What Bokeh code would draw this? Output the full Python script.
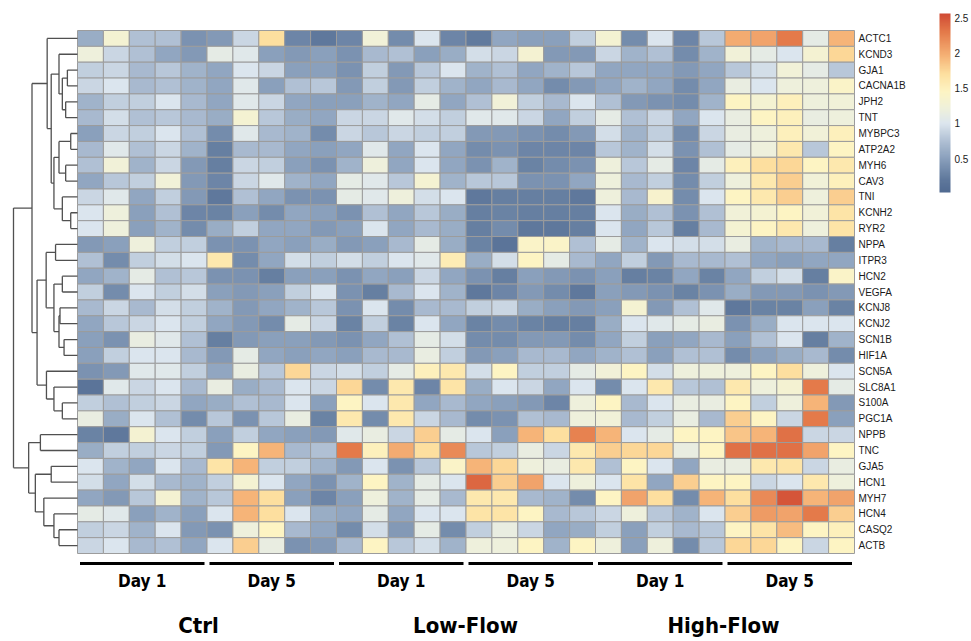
import numpy as np
from bokeh.plotting import figure
from bokeh.models import Range1d, LinearColorMapper, ColorBar, FixedTicker, ColumnDataSource
from bokeh.core.properties import value
from bokeh.embed import file_html
from bokeh.resources import INLINE

genes = ["ACTC1", "KCND3", "GJA1", "CACNA1B", "JPH2", "TNT", "MYBPC3", "ATP2A2", "MYH6", "CAV3",
         "TNI", "KCNH2", "RYR2", "NPPA", "ITPR3", "HCN2", "VEGFA", "KCNJ8", "KCNJ2", "SCN1B",
         "HIF1A", "SCN5A", "SLC8A1", "S100A", "PGC1A", "NPPB", "TNC", "GJA5", "HCN1", "MYH7",
         "HCN4", "CASQ2", "ACTB"]
conditions = ["Ctrl", "Low-Flow", "High-Flow"]
days = ["Day 1", "Day 5"]

# 33 genes x 5 replicates per group
ctrl_d1 = [
    [0.6, 1.3, 0.75, 0.75, 0.4], [1.2, 0.9, 0.75, 0.55, 0.45], [0.85, 0.9, 0.7, 0.8, 0.65],
    [0.9, 1.0, 0.7, 0.75, 0.65], [0.65, 0.85, 0.85, 1.0, 0.7], [0.7, 0.95, 0.75, 0.8, 0.7],
    [0.5, 0.9, 0.85, 1.0, 0.75], [0.7, 1.05, 0.75, 0.9, 0.65], [0.75, 1.25, 0.65, 0.9, 0.45],
    [0.55, 0.8, 0.85, 1.25, 0.45], [0.9, 1.05, 0.55, 0.85, 0.45], [1.0, 1.2, 0.5, 0.75, 0.3],
    [1.0, 1.2, 0.5, 0.65, 0.35], [0.45, 0.5, 1.2, 0.85, 0.85], [0.75, 0.35, 0.85, 0.95, 1.0],
    [0.55, 0.65, 1.1, 0.75, 0.8], [0.85, 0.35, 1.0, 0.85, 0.95], [0.7, 0.9, 0.7, 0.95, 0.85],
    [0.55, 0.8, 0.9, 1.0, 0.85], [0.5, 0.4, 1.15, 1.05, 0.75], [0.5, 0.85, 1.0, 1.0, 0.7],
    [0.4, 0.45, 1.05, 1.05, 0.85], [0.15, 1.05, 0.9, 1.0, 0.7], [0.85, 0.75, 0.85, 0.9, 0.55],
    [1.15, 0.6, 1.0, 0.75, 0.35], [0.28, 0.2, 1.3, 1.0, 0.85], [0.6, 0.85, 0.85, 0.9, 0.85],
    [1.0, 0.65, 0.55, 1.0, 0.7], [0.95, 0.55, 0.95, 0.7, 0.65], [0.55, 0.45, 0.8, 1.3, 0.65],
    [1.1, 1.05, 0.5, 0.65, 0.5], [0.85, 0.9, 0.65, 1.0, 0.45], [0.9, 1.0, 0.7, 0.75, 0.55],
]
ctrl_d5 = [
    [0.45, 0.9, 1.7, 0.3, 0.2], [1.1, 1.05, 0.5, 0.45, 0.5], [0.55, 1.0, 0.9, 0.5, 0.5],
    [0.55, 1.05, 0.5, 0.75, 0.8], [0.55, 1.05, 0.9, 0.55, 0.5], [0.6, 1.3, 0.8, 0.6, 0.55],
    [0.35, 1.05, 0.7, 0.65, 0.35], [0.25, 0.7, 0.7, 0.55, 0.5], [0.25, 0.9, 0.85, 0.5, 0.4],
    [0.3, 0.9, 1.05, 0.65, 0.55], [0.2, 0.75, 0.55, 0.4, 0.4], [0.28, 0.5, 0.35, 0.55, 0.5],
    [0.6, 0.85, 0.55, 0.55, 0.45], [0.4, 0.4, 0.55, 0.5, 0.6], [1.6, 0.35, 0.55, 0.95, 0.85],
    [0.4, 0.4, 0.25, 0.5, 0.5], [0.5, 0.45, 0.5, 0.85, 1.0], [0.65, 0.45, 0.55, 0.65, 0.8],
    [0.55, 0.45, 0.35, 1.1, 0.9], [0.25, 0.45, 0.5, 0.5, 0.45], [0.45, 1.1, 0.55, 0.5, 0.55],
    [0.55, 1.15, 0.8, 1.75, 0.9], [1.15, 0.6, 0.7, 1.0, 0.9], [0.6, 0.75, 0.7, 1.0, 0.5],
    [0.8, 0.4, 0.8, 1.15, 0.28], [0.5, 0.85, 0.55, 0.5, 0.45], [0.45, 1.45, 1.95, 0.7, 0.75],
    [1.65, 1.95, 0.85, 0.85, 0.65], [0.85, 1.3, 1.0, 0.55, 0.4], [0.8, 1.95, 1.7, 0.5, 0.3],
    [1.0, 1.95, 1.7, 1.0, 0.6], [0.4, 1.2, 1.45, 0.7, 0.55], [1.0, 1.8, 1.15, 0.4, 0.45],
]
low_d1 = [
    [0.3, 1.25, 0.35, 1.0, 0.3], [0.4, 0.7, 0.75, 0.5, 0.6], [0.4, 0.85, 0.45, 0.8, 1.0],
    [0.45, 0.85, 0.45, 0.85, 0.65], [0.5, 0.65, 0.55, 1.1, 0.55], [0.9, 0.9, 1.05, 0.95, 0.85],
    [0.9, 0.8, 0.9, 0.85, 0.85], [0.55, 1.05, 0.55, 1.0, 0.55], [0.65, 1.2, 0.55, 1.0, 0.55],
    [1.1, 1.05, 0.8, 1.3, 0.65], [1.1, 1.05, 1.2, 0.95, 1.0], [0.4, 0.75, 0.55, 0.8, 0.6],
    [0.5, 1.0, 0.55, 0.7, 0.6], [0.45, 0.5, 0.7, 1.1, 0.6], [0.95, 0.85, 1.0, 1.05, 1.55],
    [0.4, 0.55, 0.5, 0.9, 0.55], [0.4, 0.25, 0.7, 1.0, 0.65], [0.4, 1.0, 0.35, 0.7, 0.7],
    [0.28, 0.85, 0.28, 1.0, 0.55], [0.4, 0.55, 0.75, 1.1, 0.95], [0.5, 0.7, 0.7, 1.15, 0.85],
    [0.95, 0.85, 1.1, 1.5, 1.6], [1.75, 0.35, 1.6, 0.3, 1.65], [1.45, 1.0, 1.6, 0.55, 0.7],
    [1.6, 0.35, 1.6, 0.9, 0.7], [1.05, 1.15, 0.9, 1.8, 1.1], [2.3, 1.5, 2.0, 1.7, 2.2],
    [0.45, 1.0, 0.4, 0.8, 1.4], [0.65, 1.45, 0.65, 1.1, 1.0], [0.5, 1.2, 0.65, 1.1, 0.7],
    [0.55, 1.1, 0.55, 1.0, 1.0], [0.35, 0.95, 0.45, 1.1, 0.35], [0.7, 1.45, 0.8, 0.95, 0.65],
]
low_d5 = [
    [0.22, 0.55, 0.5, 0.5, 0.85], [0.95, 0.9, 1.3, 0.45, 0.45], [0.65, 0.75, 0.55, 0.65, 0.8],
    [0.55, 0.7, 0.55, 0.35, 0.45], [0.75, 1.25, 0.85, 0.7, 1.0], [1.05, 1.05, 0.9, 0.55, 0.85],
    [0.45, 0.45, 0.4, 0.35, 0.45], [0.35, 0.4, 0.3, 0.3, 0.3], [0.4, 0.65, 0.28, 0.35, 0.4],
    [0.8, 0.8, 0.4, 0.4, 0.55], [0.2, 0.25, 0.25, 0.25, 0.2], [0.25, 0.28, 0.25, 0.25, 0.25],
    [0.25, 0.35, 0.2, 0.2, 0.25], [0.28, 0.15, 1.4, 1.4, 0.75], [0.6, 0.95, 1.45, 1.1, 0.7],
    [0.4, 0.25, 0.5, 0.45, 0.4], [0.2, 0.3, 0.45, 0.35, 0.2], [0.85, 0.9, 0.6, 0.5, 0.45],
    [0.28, 0.35, 0.28, 0.25, 0.25], [0.35, 0.35, 0.45, 0.45, 0.35], [0.45, 0.5, 0.7, 0.7, 0.55],
    [0.95, 1.45, 0.85, 0.85, 1.1], [0.6, 1.0, 0.9, 0.55, 1.0], [0.55, 0.5, 0.45, 0.3, 1.2],
    [0.35, 0.4, 0.75, 0.7, 1.2], [1.0, 0.5, 1.95, 1.7, 2.25], [0.8, 0.85, 1.15, 0.9, 1.6],
    [1.95, 1.75, 1.2, 1.15, 1.6], [2.4, 1.8, 2.05, 1.0, 1.2], [1.6, 1.6, 0.7, 0.65, 0.35],
    [1.65, 1.65, 1.45, 0.7, 0.8], [0.85, 1.15, 0.9, 0.55, 0.6], [1.2, 1.2, 1.45, 0.65, 1.45],
]
high_d1 = [
    [1.3, 0.35, 1.0, 0.3, 0.8], [0.9, 0.65, 0.75, 0.35, 0.65], [0.55, 0.55, 0.55, 0.45, 0.55],
    [0.55, 0.65, 0.55, 0.35, 0.55], [0.75, 0.45, 0.4, 0.35, 0.65], [1.1, 0.75, 0.9, 0.55, 1.0],
    [0.95, 0.65, 0.85, 0.35, 0.9], [0.8, 0.65, 0.95, 0.4, 0.75], [1.2, 0.8, 1.1, 0.3, 1.1],
    [1.2, 0.7, 0.85, 0.35, 0.85], [1.2, 0.7, 1.35, 0.35, 1.0], [1.0, 0.6, 0.75, 0.4, 0.75],
    [1.0, 0.55, 0.8, 0.25, 0.7], [1.1, 0.65, 1.0, 0.95, 0.95], [0.55, 0.85, 0.45, 0.7, 0.7],
    [0.5, 0.25, 0.28, 0.55, 0.28], [0.5, 0.45, 0.4, 0.28, 0.4], [0.5, 1.3, 0.45, 0.75, 1.05],
    [0.6, 1.0, 1.05, 1.1, 1.15], [0.55, 0.85, 0.5, 0.55, 0.7], [0.65, 0.75, 0.5, 0.75, 0.75],
    [1.25, 1.45, 0.95, 1.2, 1.2], [0.35, 1.0, 1.6, 0.8, 0.75], [1.45, 0.7, 1.0, 1.15, 1.15],
    [1.25, 0.7, 0.85, 1.15, 0.7], [1.95, 1.0, 1.1, 1.45, 1.45], [1.8, 1.75, 1.75, 1.15, 1.45],
    [0.75, 1.45, 1.0, 0.55, 1.15], [1.0, 1.65, 0.55, 1.8, 1.45], [1.45, 2.05, 1.7, 0.35, 1.95],
    [0.9, 1.2, 0.8, 0.65, 1.0], [0.85, 0.5, 0.85, 0.7, 0.8], [1.2, 0.5, 1.2, 0.35, 0.8],
]
high_d5 = [
    [2.0, 2.05, 2.3, 1.1, 1.95], [1.25, 1.1, 1.0, 1.3, 1.75], [0.8, 0.95, 1.25, 1.1, 0.8],
    [1.15, 1.0, 1.2, 1.2, 1.4], [1.45, 1.3, 1.5, 1.2, 1.25], [1.15, 1.45, 1.5, 1.15, 1.2],
    [1.15, 1.2, 1.5, 1.25, 1.5], [1.1, 1.2, 1.6, 0.8, 1.45], [1.5, 1.7, 1.75, 1.45, 1.6],
    [1.2, 1.6, 1.8, 1.25, 1.5], [1.45, 1.6, 1.8, 1.2, 1.8], [1.25, 1.3, 1.45, 1.25, 1.65],
    [1.3, 1.45, 1.6, 1.2, 1.65], [1.15, 0.65, 0.7, 0.7, 0.25], [0.75, 0.55, 0.5, 0.55, 0.55],
    [0.55, 0.85, 0.95, 0.25, 1.4], [0.6, 0.45, 0.45, 0.4, 0.45], [0.2, 0.28, 0.28, 0.5, 0.28],
    [0.4, 0.6, 1.0, 1.0, 1.0], [0.5, 0.75, 1.0, 0.25, 0.65], [0.35, 0.5, 0.6, 0.7, 0.35],
    [1.2, 1.45, 1.7, 1.2, 1.0], [1.6, 1.2, 1.3, 2.3, 1.1], [1.45, 0.85, 1.2, 1.95, 0.45],
    [1.8, 1.45, 0.9, 2.3, 0.5], [1.85, 1.95, 2.35, 0.9, 0.9], [2.35, 2.35, 2.35, 2.05, 1.45],
    [1.15, 1.6, 1.65, 0.9, 1.15], [1.45, 0.9, 1.0, 1.6, 1.2], [1.7, 2.2, 2.5, 1.95, 2.05],
    [1.8, 2.1, 2.05, 2.3, 1.8], [1.45, 1.65, 1.9, 1.45, 1.5], [1.75, 1.75, 1.45, 0.9, 1.45],
]
group_blocks = [ctrl_d1, ctrl_d5, low_d1, low_d5, high_d1, high_d5]

# row dendrogram: (node, left child, right child, merge height)
merges = [
    ("a1", "GJA1", "CACNA1B", 1.0), ("a2", "JPH2", "TNT", 1.17), ("a3", "a1", "a2", 1.5),
    ("a4", "KCND3", "a3", 1.83), ("a5", "MYBPC3", "ATP2A2", 0.67), ("a6", "MYH6", "CAV3", 1.17),
    ("a7", "a5", "a6", 1.83), ("a8", "KCNH2", "RYR2", 0.67), ("a9", "TNI", "a8", 1.5),
    ("a10", "a7", "a9", 2.33), ("a11", "a4", "a10", 2.6), ("A", "ACTC1", "a11", 3.0),
    ("b1", "NPPA", "ITPR3", 2.17), ("b2", "HCN2", "VEGFA", 1.5), ("b3", "KCNJ8", "KCNJ2", 1.73),
    ("b4", "SCN1B", "HIF1A", 1.33), ("b5", "b3", "b4", 1.83), ("b6", "b2", "b5", 2.33),
    ("b7", "b1", "b6", 3.1), ("c1", "S100A", "PGC1A", 1.5), ("c2", "SLC8A1", "c1", 2.33),
    ("c3", "SCN5A", "c2", 3.07), ("B", "b7", "c3", 4.0), ("AB", "A", "B", 4.5),
    ("d1", "NPPB", "TNC", 3.67), ("d2", "GJA5", "HCN1", 2.6), ("d3", "CASQ2", "ACTB", 1.83),
    ("d4", "HCN4", "d3", 2.33), ("d5", "MYH7", "d4", 3.33), ("d6", "d2", "d5", 4.17),
    ("C", "d1", "d6", 4.83), ("root", "AB", "C", 6.33),
]

# ---------------- layout constants (page pixels) ----------------
W, H = 971, 641
n_rows, n_cols = len(genes), 5 * len(group_blocks)
cw = 777.0 / n_cols          # px per column
rh = 523.0 / n_rows          # px per row
hx0, hy0 = 77.0, 30.0        # heatmap top-left
dendro_k = (64.0 / cw) / 6.33  # columns per unit of merge height


def px_x(px):
    return (px - hx0) / cw


def px_y(py):
    return (py - hy0) / rh


# colour scale
anchors = [(0.0, "#4f6990"), (0.2, "#5f789c"), (0.5, "#8aa0bc"), (0.75, "#b0c0d4"),
           (1.0, "#dce6ee"), (1.2, "#eef0dc"), (1.45, "#fdf4c4"), (1.7, "#fde0a0"),
           (1.95, "#f6b478"), (2.3, "#e47a4a"), (2.56, "#d04a34")]
lo, hi = 0.02, 2.56


def hex2rgb(h):
    return np.array([int(h[i:i + 2], 16) for i in (1, 3, 5)], dtype=float)


av = np.array([a[0] for a in anchors])
ac = np.array([hex2rgb(a[1]) for a in anchors])
palette = []
for t in np.linspace(lo, hi, 256):
    rgb = [np.interp(t, av, ac[:, k]) for k in range(3)]
    palette.append("#%02x%02x%02x" % tuple(int(round(c)) for c in rgb))
mapper = LinearColorMapper(palette=palette, low=lo, high=hi)

p = figure(width=W, height=H,
           x_range=Range1d(px_x(0), px_x(W)), y_range=Range1d(px_y(H), px_y(0)),
           output_backend="svg", toolbar_location=None,
           x_axis_location=None, y_axis_location=None, min_border=0)
p.grid.visible = False
p.outline_line_color = None
p.background_fill_color = "white"

# heatmap cells
xs, ys, vals = [], [], []
for g, block in enumerate(group_blocks):
    for r, row in enumerate(block):
        for c, v in enumerate(row):
            xs.append(g * 5 + c + 0.5)
            ys.append(r + 0.5)
            vals.append(v)
src = ColumnDataSource(dict(x=xs, y=ys, v=vals))
p.rect(x="x", y="y", width=1, height=1, source=src,
       fill_color={"field": "v", "transform": mapper},
       line_color="#9c9c9c", line_width=1)

# dendrogram
pos = {g: i + 0.5 for i, g in enumerate(genes)}
hgt = {g: 0.0 for g in genes}
x0s, x1s, y0s, y1s = [], [], [], []
for name, a, b, h in merges:
    for ch in (a, b):
        x0s.append(-hgt[ch] * dendro_k); x1s.append(-h * dendro_k)
        y0s.append(pos[ch]); y1s.append(pos[ch])
    x0s.append(-h * dendro_k); x1s.append(-h * dendro_k)
    y0s.append(pos[a]); y1s.append(pos[b])
    pos[name] = (pos[a] + pos[b]) / 2.0
    hgt[name] = h
p.segment(x0=x0s, y0=y0s, x1=x1s, y1=y1s, line_color="#505050", line_width=1.3)

# gene labels
p.text(x=[n_cols + 4.0 / cw] * n_rows, y=[i + 0.5 for i in range(n_rows)], text=genes,
       text_font=value("Liberation Sans"), text_font_size="10px",
       text_baseline="middle", text_align="left", text_color="#1a1a1a")

# group bars and labels
narrow = value("'Liberation Sans Narrow', 'DejaVu Sans Condensed', 'Liberation Sans', sans-serif")
inset = 2.5 / cw
p.segment(x0=[g * 5 + inset for g in range(6)], x1=[g * 5 + 5 - inset for g in range(6)],
          y0=[px_y(563)] * 6, y1=[px_y(563)] * 6, line_color="black", line_width=3)
p.text(x=[g * 5 + 2.5 for g in range(6)], y=[px_y(580)] * 6,
       text=[days[g % 2] for g in range(6)],
       text_font=narrow, text_font_style="bold", text_font_size="17px",
       text_align="center", text_baseline="middle", text_color="black")
p.text(x=[px_x(198), px_x(465), px_x(723)], y=[px_y(625)] * 3, text=conditions,
       text_font=narrow, text_font_style="bold", text_font_size="22px",
       text_align="center", text_baseline="middle", text_color="black")

# colour bar
cb = ColorBar(color_mapper=mapper, orientation="vertical", width=11, height=179,
              location=(939, H - 192), padding=0, margin=0, label_standoff=4,
              ticker=FixedTicker(ticks=[0.5, 1, 1.5, 2, 2.5]),
              major_label_overrides={0.5: "0.5", 1: "1", 1.5: "1.5", 2: "2", 2.5: "2.5"},
              major_tick_line_color=None, minor_tick_line_color=None,
              bar_line_color=None, border_line_color=None, background_fill_alpha=0,
              major_label_text_font="Liberation Sans", major_label_text_font_size="10px",
              major_label_text_color="#1a1a1a")
p.add_layout(cb)

open("out.html", "w").write(file_html(p, INLINE))
